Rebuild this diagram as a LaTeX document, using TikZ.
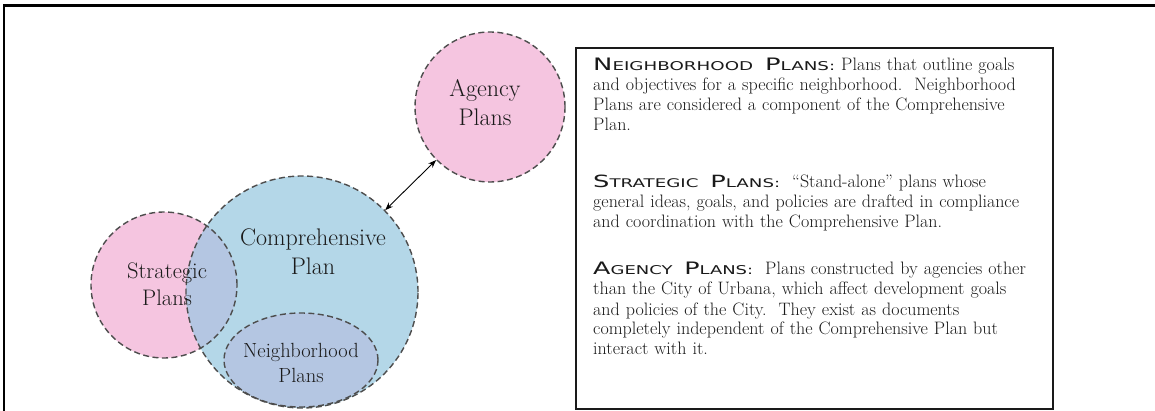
\documentclass[tikz,border=0pt]{standalone}
\usepackage{fontspec}
\usepackage{graphicx}
\usetikzlibrary{arrows.meta,shapes.geometric}
\newfontfamily\hdfont{DejaVu Sans}
\definecolor{pinkf}{HTML}{F5C5E0}
\definecolor{bluef}{HTML}{B4D7E8}
\definecolor{lavf}{HTML}{B4C6E2}
\definecolor{edgec}{HTML}{4D4D4D}
\definecolor{ink}{HTML}{1A1A1A}
\newcommand{\hbig}[1]{{\fontsize{13}{13}\selectfont #1}}
\newcommand{\hsmall}[1]{{\fontsize{9.2}{9.2}\selectfont #1}}
\newcommand{\headg}[2]{\resizebox{#1}{12.5pt}{\hdfont #2}}
\begin{document}
\begin{tikzpicture}[x=1pt,y=-1pt,
  outl/.style={draw=edgec, line width=1.4pt, dash pattern=on 6pt off 3.5pt, inner sep=0pt},
  lbl/.style={text=ink, align=center, inner sep=0pt, font=\fontsize{24}{29}\selectfont},
  para/.style={anchor=base west, inner sep=0pt, text width=470pt, align=left, text=ink, font=\fontsize{18}{20}\selectfont},
  dblarrow/.style={{Stealth[length=8pt,width=6pt]}-{Stealth[length=8pt,width=6pt]}, line width=0.9pt, black}]
\useasboundingbox (0,0) rectangle (1155,411);
\fill[white] (0,0) rectangle (1155,411);
\draw[line width=2.2pt] (4,411) -- (4,5.5) -- (1155,5.5);
% fills
\fill[pinkf] (164,285) circle[radius=73];
\fill[bluef] (302,292) circle[radius=116];
\begin{scope}
  \clip (164,285) circle[radius=73];
  \fill[lavf] (302,292) circle[radius=116];
\end{scope}
\fill[pinkf] (490,107) circle[radius=75];
\fill[lavf] (301,360) ellipse[x radius=77, y radius=47];
% outlines
\node[outl, circle, minimum size=146pt] (sp) at (164,285) {};
\node[outl, circle, minimum size=232pt] (cp) at (302,292) {};
\node[outl, circle, minimum size=150pt] (ag) at (490,107) {};
\node[outl, ellipse, minimum width=154pt, minimum height=94pt] (nb) at (301,360) {};
% labels
\node[lbl] (cpl) at (313,252) {Comprehensive\\Plan};
\node[lbl, font=\fontsize{22.5}{27}\selectfont] (spl) at (167,284) {Strategic\\Plans};
\node[lbl] (agl) at (485,103) {Agency\\Plans};
\node[lbl, font=\fontsize{20.5}{25}\selectfont] (nbl) at (301,363) {Neighborhood\\Plans};
% connector
\draw[dblarrow] (ag) -- (cp);
% text box
\node[draw=ink, line width=1.5pt, minimum width=477pt, minimum height=361pt, inner sep=0pt] (box) at (814.5,228.5) {};
\node[para] (p1) at (593,71) {\headg{242pt}{\hbig{N}\hsmall{EIGHBORHOOD} \hbig{P}\hsmall{LANS:}} Plans that outline goals\\and objectives for a specific neighborhood.\ \ Neighborhood\\Plans are considered a component of the Comprehensive\\Plan.};
\node[para] (p2) at (593,188) {\headg{187pt}{\hbig{S}\hsmall{TRATEGIC} \hbig{P}\hsmall{LANS:}}\ \ ``Stand-alone'' plans whose\\general ideas, goals, and policies are drafted in compliance\\and coordination with the Comprehensive Plan.};
\node[para] (p3) at (593,275) {\headg{160pt}{\hbig{A}\hsmall{GENCY} \hbig{P}\hsmall{LANS:}}\ \ Plans constructed by agencies other\\than the City of Urbana, which affect development goals\\and policies of the City.\ \ They exist as documents\\completely independent of the Comprehensive Plan but\\interact with it.};
\end{tikzpicture}
\end{document}
